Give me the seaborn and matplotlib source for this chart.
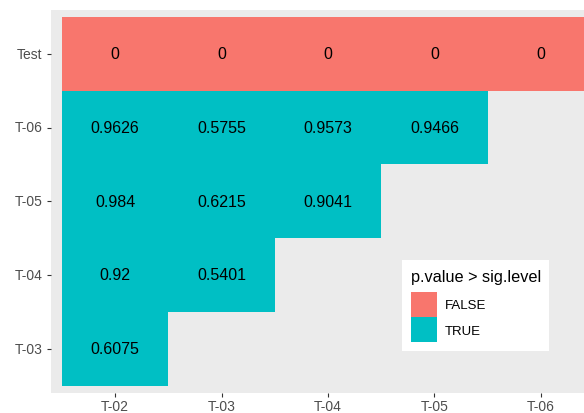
import numpy as np
import pandas as pd
import matplotlib
matplotlib.use("Agg")
import matplotlib.pyplot as plt
import seaborn as sns
from matplotlib.colors import ListedColormap
from matplotlib.patches import Patch

# rows top to bottom, columns left to right
row_labels = ["Test", "T-06", "T-05", "T-04", "T-03"]
col_labels = ["T-02", "T-03", "T-04", "T-05", "T-06"]
p_test = [0, 0, 0, 0, 0]
p_t06 = [0.9626, 0.5755, 0.9573, 0.9466, np.nan]
p_t05 = [0.984, 0.6215, 0.9041, np.nan, np.nan]
p_t04 = [0.92, 0.5401, np.nan, np.nan, np.nan]
p_t03 = [0.6075, np.nan, np.nan, np.nan, np.nan]
sig_level = 0.05

legend_title = "p.value > sig.level"
legend_labels = ["FALSE", "TRUE"]
col_false = "#F8766D"
col_true = "#00BFC4"

pv = pd.DataFrame([p_test, p_t06, p_t05, p_t04, p_t03], index=row_labels, columns=col_labels)
mask = pv.isna()
above = (pv > sig_level).astype(float).where(~mask)
labels = pv.apply(lambda s: s.map(lambda v: "" if pd.isna(v) else f"{v:g}"))

plt.rcParams["font.family"] = ["Liberation Sans", "DejaVu Sans"]

fig = plt.figure(figsize=(5.84, 4.14), dpi=100)
W, H = 584, 414
ax = fig.add_axes([51 / W, 1 - 394 / H, (605 - 51) / W, (394 - 10.5) / H])
ax.set_facecolor("#EBEBEB")

sns.heatmap(
    above,
    mask=mask,
    cmap=ListedColormap([col_false, col_true]),
    vmin=0, vmax=1,
    annot=labels.values,
    fmt="",
    annot_kws={"color": "black", "fontsize": 11.5},
    cbar=False,
    linewidths=0,
    ax=ax,
)

ax.set_xlim(-0.103, 5.103)
ax.set_ylim(5.1, -0.1)
ax.set_xlabel("")
ax.set_ylabel("")
ax.set_yticklabels(row_labels, rotation=0)
ax.set_xticklabels(col_labels, rotation=0)
ax.tick_params(axis="both", length=3, color="#333333", labelcolor="#4D4D4D",
               labelsize=10, pad=3, width=0.8)
ax.tick_params(axis="x", pad=1.5)
for sp in ax.spines.values():
    sp.set_visible(False)

handles = [Patch(facecolor=col_false, edgecolor="none"),
           Patch(facecolor=col_true, edgecolor="none")]
leg = fig.legend(
    handles, legend_labels, title=legend_title,
    loc="upper left", bbox_to_anchor=(402 / W, 1 - 261 / H),
    bbox_transform=fig.transFigure,
    fontsize=9.5, title_fontsize=11.7,
    handlelength=2.0, handleheight=2.55, handletextpad=0.6,
    labelspacing=0.0, borderpad=0.65, borderaxespad=0,
    frameon=True, fancybox=False, alignment="left",
)
leg._legend_box.sep = 6  # gap between title and keys
leg.get_frame().set_facecolor("white")
leg.get_frame().set_edgecolor("none")
leg.get_frame().set_alpha(1)

fig.savefig("out.png", dpi=100)
